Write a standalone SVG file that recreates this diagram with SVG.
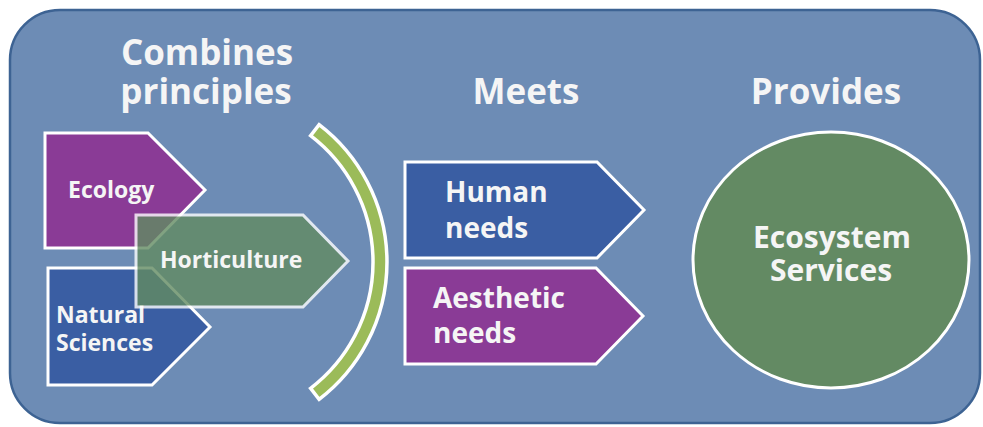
<svg xmlns="http://www.w3.org/2000/svg" width="983" height="427" viewBox="0 0 983 427">
<style>
text{font-family:"Open Sans","Liberation Sans",sans-serif;font-weight:bold;fill:#F5F5F5}
.hd{font-size:35px}
.sm{font-size:23px}
.md{font-size:28px}
.lg{font-size:30px}
.shape{stroke:#FFFFFF;stroke-width:3;stroke-linejoin:miter}
.purple{fill:#8A3B96}
.blue{fill:#3A5EA3}
.green{fill:#628B62}
</style>
<rect x="0" y="0" width="983" height="427" fill="#FFFFFF"/>
<g id="background">
<rect x="10" y="10" width="970" height="413" rx="50" ry="50" fill="#6D8CB5" stroke="#3D6393" stroke-width="2.5"/>
</g>
<g id="headers">
<text class="hd" x="207" y="65" text-anchor="middle">Combines</text>
<text class="hd" x="206" y="104" text-anchor="middle">principles</text>
<text class="hd" x="526" y="104" text-anchor="middle">Meets</text>
<text class="hd" x="826" y="104" text-anchor="middle">Provides</text>
</g>
<g id="ecology">
<polygon class="shape purple" points="45,133 148,133 205,190 148,248 45,248"/>
<text class="sm" x="68" y="198">Ecology</text>
</g>
<g id="natural-sciences">
<polygon class="shape blue" points="48,268 152,268 210,327 152,385 48,385"/>
<text class="sm" x="56" y="323">Natural</text>
<text class="sm" x="56" y="351">Sciences</text>
</g>
<g id="horticulture">
<polygon class="shape green" opacity="0.8" points="136,215 303,215 348,261 303,307 136,307"/>
<text class="sm" x="160" y="268">Horticulture</text>
</g>
<g id="connectors">
<path d="M 319.1,124.6 A 173 173 0 0 1 319.1,399.4 L 310.6,388.3 A 159 159 0 0 0 310.6,135.7 Z" fill="#9BBB59" stroke="#FFFFFF" stroke-width="3.5" stroke-linejoin="miter"/>
</g>
<g id="human-needs">
<polygon class="shape blue" points="405,162 597,162 644,210 597,258 405,258"/>
<text class="md" x="445" y="202">Human</text>
<text class="md" x="445" y="238">needs</text>
</g>
<g id="aesthetic-needs">
<polygon class="shape purple" points="405,268 596,268 643,316 596,364 405,364"/>
<text class="md" x="433" y="308">Aesthetic</text>
<text class="md" x="433" y="343">needs</text>
</g>
<g id="ecosystem-services">
<ellipse cx="831" cy="260" rx="138" ry="128" fill="#638A63" stroke="#FFFFFF" stroke-width="3"/>
<text class="lg" x="832" y="248" text-anchor="middle">Ecosystem</text>
<text class="lg" x="831" y="281" text-anchor="middle">Services</text>
</g>
</svg>
